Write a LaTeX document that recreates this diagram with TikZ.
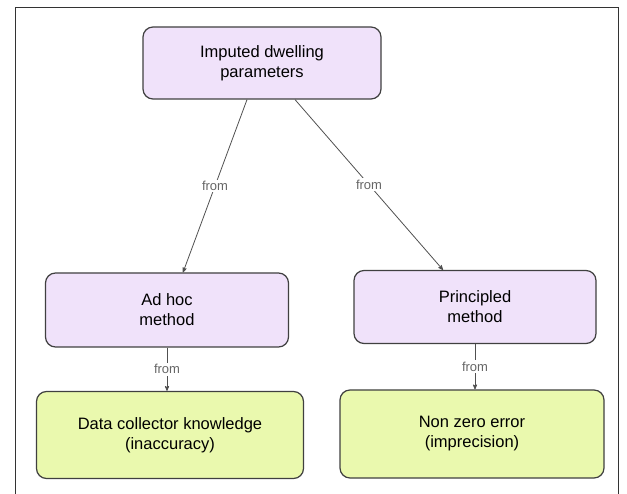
\documentclass[tikz,border=0pt]{standalone}
\usepackage{fontspec}
\setmainfont{Liberation Sans}
\usepackage{tikz}
\usetikzlibrary{arrows,positioning}
\definecolor{lilac}{RGB}{240,226,250}
\definecolor{lime}{RGB}{234,249,174}
\definecolor{edgegray}{RGB}{80,80,80}
\tikzset{
    box/.style={
           rectangle,
           rounded corners=10pt,
           draw=black!75,
           line width=1.2pt,
           align=center,
           font=\fontsize{16.5}{20}\selectfont,
           inner sep=2pt,
           text centered,
           },
}

\begin{document}
\begin{tikzpicture}[
  x=1pt,y=-1pt,
  ->,>=stealth',
  node distance=247pt,
  method/.style={fill=lilac},
  source/.style={fill=lime},
  fromlbl/.style={fill=white,text=black!60,inner sep=1.5pt,font=\fontsize{13}{15}\selectfont}]
\useasboundingbox (0,0) rectangle (627,494);
\draw[-,black!80,line width=0.9pt] (15,494) -- (15,7) -- (618,7) -- (618,494);
\node[box,method,minimum width=238pt,minimum height=72pt] at (262,63) (imputed){Imputed dwelling\\parameters};
\node[box,method,minimum width=243pt,minimum height=74pt,below of=imputed,xshift=-95pt](adhoc){Ad hoc\\method};
\node[box,method,minimum width=242pt,minimum height=73pt,below of=imputed,node distance=244pt,xshift=213pt](principled){Principled\\method};
\node[box,source,minimum width=267pt,minimum height=87pt,below of=adhoc,node distance=125pt,xshift=3pt](knowledge){Data collector knowledge\\(inaccuracy)};
\node[box,source,minimum width=264pt,minimum height=88pt,below of=principled,node distance=127pt,xshift=-3pt](nonzero){Non zero error\\(imprecision)};

\path[edgegray,line width=0.8pt]
      ([xshift=-15pt]imputed.south) edge node[fromlbl]{from} ([xshift=16pt]adhoc.north)
      ([xshift=33pt]imputed.south) edge node[fromlbl]{from} ([xshift=-32pt]principled.north)
      (adhoc) edge node[fromlbl]{from} (adhoc |- knowledge.north)
      (principled) edge node[fromlbl]{from} (principled |- nonzero.north);
\end{tikzpicture}
\end{document}
